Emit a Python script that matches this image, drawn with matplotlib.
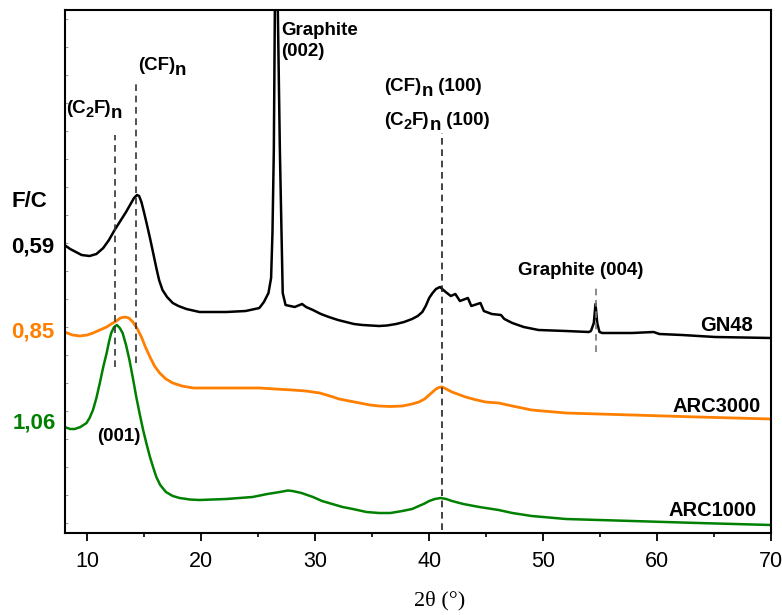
import numpy as np
import matplotlib
matplotlib.use('Agg')
import matplotlib.pyplot as plt
import matplotlib.transforms as mtransforms
from matplotlib.ticker import MultipleLocator

plt.rcParams['font.family'] = ['Liberation Sans', 'DejaVu Sans']

# GN48 (black)
gn48_x = [8.0, 8.5, 9.0, 9.5, 10.2, 10.8, 11.4, 11.9, 12.4, 12.9, 13.4, 13.8, 14.1, 14.36, 14.55,
          14.75, 14.95, 15.2, 15.5, 15.8, 16.06, 16.3, 16.6, 17.0, 17.5, 18.0, 18.7, 19.85, 22.2,
          23.9, 25.1, 25.5, 25.9, 26.13, 26.25, 26.37, 26.46, 26.6, 26.72, 26.9, 27.15, 27.4,
          27.8, 28.2, 28.85, 29.2, 29.8, 30.5, 31.2, 32.0, 32.7, 33.4, 34.15, 35.6, 36.3, 37.1,
          37.8, 38.5, 39.0, 39.4, 39.7, 40.0, 40.3, 40.6, 40.95, 41.45, 41.9, 42.3, 42.7, 43.4,
          43.7, 44.5, 44.8, 45.5, 46.3, 46.6, 47.3, 48.3, 49.6, 50.8, 52.0, 54.0, 54.2, 54.45,
          54.6, 54.75, 54.95, 55.2, 57.8, 59.7, 60.2, 62.2, 65.1, 70.0]
gn48_y = [288, 284, 281, 278, 277, 279, 285, 293, 303, 312, 321, 329, 335, 338, 337,
          331, 322, 310, 295, 279, 265, 253, 243, 236, 230, 227, 224, 221, 221,
          222, 225, 231, 240, 255, 300, 383, 523, 1400, 523, 383, 240, 228,
          227, 226, 229, 226, 223, 219, 216, 213, 211, 209, 208, 207, 207.5, 209,
          211, 214, 217, 221, 227, 235, 240, 244, 246, 241, 237, 239, 232, 235,
          227, 230, 222, 219, 218, 214, 210, 206, 203, 202.5, 202, 201, 202, 210,
          229, 210, 201, 200, 200, 201, 199, 198, 196, 195]

# ARC3000 (orange)
arc3000_x = [8.0, 8.7, 9.35, 10.0, 10.5, 11.1, 11.7, 12.1, 12.55, 12.9, 13.3, 13.65, 14.0, 14.4,
             14.75, 15.1, 15.5, 15.9, 16.35, 16.9, 17.5, 18.3, 19.3, 22.2, 25.1, 26.5, 28.0, 29.2,
             30.4, 31.3, 32.1, 33.0, 33.9, 34.8, 35.6, 36.6, 37.65, 38.5, 39.1, 39.6, 40.0, 40.3,
             40.6, 40.85, 41.15, 41.5, 42.0, 42.6, 43.2, 44.0, 44.95, 46.1, 47.3, 49.0, 52.0,
             57.8, 63.6, 70.0]
arc3000_y = [201, 198, 197, 198, 200, 203, 206, 209, 212, 215, 216, 215, 211, 204,
             196, 186, 176, 167, 160, 154, 150, 147, 145, 145, 145, 144, 143, 142,
             140, 137, 134, 132, 130, 128, 127, 126.5, 127, 129, 131, 134, 138, 141,
             144, 145.5, 146, 144, 141, 138.5, 136, 133.5, 131, 130, 127, 123, 120,
             118, 116, 114]

# ARC1000 (green)
arc1000_x = [8.0, 8.5, 8.9, 9.4, 9.93, 10.2, 10.5, 10.8, 11.1, 11.4, 11.7, 11.9, 12.1, 12.35,
             12.6, 12.85, 13.1, 13.4, 13.7, 14.0, 14.3, 14.6, 14.9, 15.2, 15.5, 15.8, 16.06,
             16.4, 16.9, 17.5, 18.1, 19.0, 19.85, 22.2, 24.5, 25.8, 26.9, 27.6, 28.0, 28.8,
             29.8, 30.6, 31.5, 32.4, 33.3, 34.5, 35.6, 36.6, 37.65, 38.5, 39.1, 39.6, 40.0,
             40.5, 41.0, 41.5, 42.0, 43.0, 44.4, 46.1, 47.3, 49.0, 52.0, 57.8, 63.6, 70.0]
arc1000_y = [106, 104, 104, 106, 110, 115, 123, 135, 150, 166, 180, 191, 200, 206,
             208, 205, 200, 188, 173, 155, 136, 119, 103, 89, 76, 65, 56,
             48, 41, 37, 35, 33.5, 33, 34, 36, 39, 41, 42.5, 42, 40,
             36, 32, 29, 26, 24, 21, 20, 20, 22, 24, 27, 29.5, 32,
             34, 35, 34, 32, 29, 26, 23, 20, 17, 14, 12, 10, 8]

# reference lines: position, bottom, top
ref_x = [12.4, 14.25, 41.15, 54.6]
ref_lo = [166, 170, 3, 181]
ref_hi = [398, 451, 400, 245]
ref_col = ['#333333', '#333333', '#222222', '#777777']

fig = plt.figure(figsize=(7.82, 6.15), dpi=100)
ax = fig.add_axes([64.5 / 782, 1 - 533 / 615, (771 - 64.5) / 782, (533 - 10) / 615])

ax.plot(gn48_x, gn48_y, color='black', lw=1.8)
ax.plot(arc3000_x, arc3000_y, color='#ff7f00', lw=2.0)
ax.plot(arc1000_x, arc1000_y, color='#008000', lw=1.8)

for x, lo, hi, c in zip(ref_x, ref_lo, ref_hi, ref_col):
    ax.plot([x, x], [lo, hi], color=c, lw=1.2, linestyle=(0, (4, 2.8)))

ax.set_xlim(8, 70)
ax.set_ylim(0, 523)
ax.xaxis.set_major_locator(MultipleLocator(10))
ax.xaxis.set_minor_locator(MultipleLocator(5))
ax.tick_params(axis='x', which='major', direction='out', length=6, width=1.3,
               labelsize=15.5, pad=7)
ax.tick_params(axis='x', which='minor', direction='out', length=3, width=1.2)
ax.set_yticks(np.arange(10, 523, 28))
ax.tick_params(axis='y', which='major', direction='in', length=2.5, width=0.7,
               color='#999999', labelleft=False)
for lab in ax.get_xticklabels():
    lab.set_family(['Liberation Sans Narrow', 'Liberation Sans'])
for s in ax.spines.values():
    s.set_linewidth(1.5)

fig.text(440 / 782, 1 - 601 / 615, '2θ (°)', family='Liberation Serif', fontsize=16,
         ha='center', va='center')

renderer = fig.canvas.get_renderer()


def label(x, y, pieces, size=13.5):
    # pieces: (text, drop in pixels, font size or None)
    dx = 0.0
    for s, drop, fs in pieces:
        tr = mtransforms.offset_copy(ax.transData, fig=fig, x=dx, y=-drop, units='dots')
        t = ax.text(x, y, s, transform=tr, fontweight='bold', fontsize=fs or size,
                    ha='left', va='baseline')
        dx += t.get_window_extent(renderer=renderer).width


label(8.12, 420, [('(C', 0, None), ('2', 4, 10.5), ('F)', 0, None), ('n', 5, 13.5)])
label(14.42, 463, [('(CF)', 0, None), ('n', 5, 13.5)])
label(36.05, 442, [('(CF)', 0, None), ('n', 5, 13.5), (' (100)', 0, None)])
label(36.05, 408, [('(C', 0, None), ('2', 4, 10.5), ('F)', 0, None), ('n', 5, 13.5),
                   (' (100)', 0, None)])

tk = dict(fontweight='bold', fontsize=13.5, ha='left', va='baseline')
ax.text(27.0, 498, 'Graphite', **tk)
ax.text(27.0, 477, '(002)', **tk)
ax.text(47.8, 258, 'Graphite (004)', **tk)
ax.text(10.83, 92, '(001)', **tk)

sk = dict(fontweight='bold', fontsize=14.5, ha='right', va='baseline')
ax.text(68.45, 202, 'GN48', **sk)
ax.text(69.06, 121, 'ARC3000', **sk)
ax.text(68.7, 17, 'ARC1000', **sk)

fig.text(29 / 782, 1 - 201 / 615, 'F/C', fontweight='bold', fontsize=16, ha='center', va='center')
fig.text(54 / 782, 1 - 247 / 615, '0,59', fontweight='bold', fontsize=16, ha='right', va='center')
fig.text(54 / 782, 1 - 332 / 615, '0,85', fontweight='bold', fontsize=16, ha='right', va='center',
         color='#ff7f00')
fig.text(56 / 782, 1 - 423 / 615, '1,06', fontweight='bold', fontsize=16, ha='right', va='center',
         color='#008000')

fig.savefig('out.png', dpi=100)
